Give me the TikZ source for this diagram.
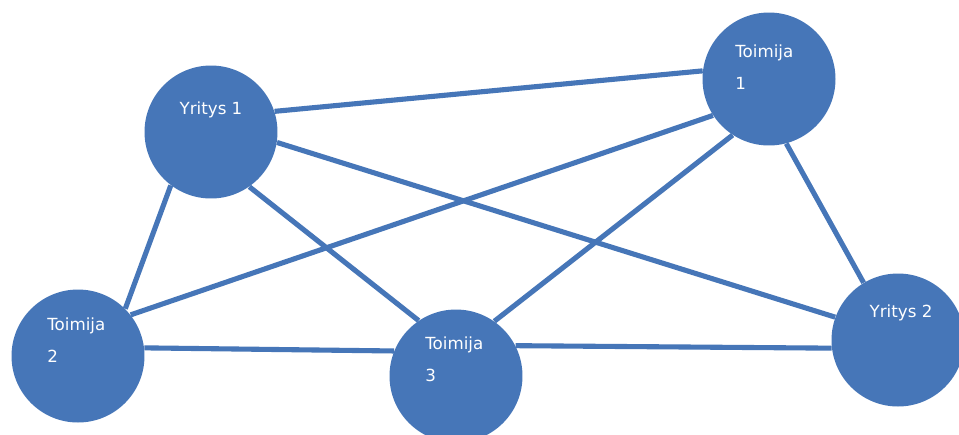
\documentclass[tikz,border=0pt]{standalone}
\usepackage{fontspec}
\setmainfont{DejaVu Sans}
\definecolor{nodeblue}{HTML}{4676B8}

\begin{document}
\begin{tikzpicture}[x=0.02cm,y=-0.02cm,
    actor/.style={circle,fill=nodeblue,inner sep=0pt,minimum size=2.66cm},
    nametext/.style={text=white,font=\fontsize{9.5}{18}\selectfont,inner sep=0pt},
    link/.style={draw=nodeblue,line width=2.9pt}]
  \clip (0,0) rectangle (959,434);
  \fill[white] (0,0) rectangle (959,434);
  % toimijat ja yritykset
  \node[actor] (y1) at (211,132) {};
  \node[actor] (t1) at (769,79) {};
  \node[actor] (t2) at (78,356) {};
  \node[actor] (t3) at (456,376) {};
  \node[actor] (y2) at (898,340) {};
  % nimet
  \node[nametext] (y1txt) at (211,110) {Yritys 1};
  \node[nametext,anchor=west,align=left] (t1txt) at (735,67) {Toimija\\1};
  \node[nametext,anchor=west,align=left] (t2txt) at (47,340) {Toimija\\2};
  \node[nametext,anchor=west,align=left] (t3txt) at (425,359) {Toimija\\3};
  \node[nametext] (y2txt) at (901,313) {Yritys 2};
  % yhteydet
  \draw[link] (y1.18) -- (t1.173);
  \draw[link] (y1.-9) -- (y2.160);
  \draw[link] (y1.-55) -- (t3.124);
  \draw[link] (y1.-127) -- (t2.45);
  \draw[link] (t1.-147) -- (t2.38);
  \draw[link] (t1.-123) -- (t3.55);
  \draw[link] (t1.-75) -- (y2.121);
  \draw[link] (t2.7) -- (t3.158);
  \draw[link] (t3.27) -- (y2.-173);
\end{tikzpicture}
\end{document}
